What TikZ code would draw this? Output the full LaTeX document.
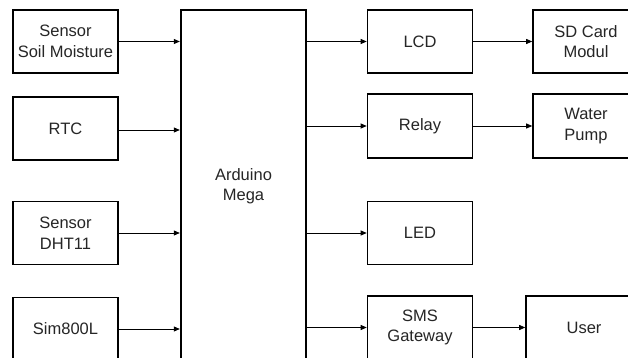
\documentclass[tikz,border=0pt]{standalone}
\usepackage{fontspec}
\setmainfont{Liberation Sans}
\usetikzlibrary{arrows.meta}
\begin{document}
\begin{tikzpicture}[x=1pt,y=1pt,
  box/.style={draw, line width=1.6pt, minimum width=105pt, minimum height=63pt,
    align=center, inner sep=0pt, text=black!85, font=\fontsize{16.5}{20.5}\selectfont},
  conn/.style={line width=0.8pt, -{Triangle[length=6pt,width=5pt]}}]
\useasboundingbox (0,0) rectangle (628,-358);
\clip (0,0) rectangle (628,-358);
\fill[white] (0,0) rectangle (628,-358);
% left column
\node[box] (sm)  at (65.5,-41.5) {Sensor\\Soil Moisture};
\node[box] (rtc) at (65.5,-128.5) {RTC};
\node[box] (dht) at (65.5,-233) {Sensor\\DHT11};
\node[box] (sim) at (65.5,-329) {Sim800L};
% controller
\node[box, line width=2.4pt, minimum width=125pt, minimum height=352pt] (ard) at (243.5,-186) {Arduino\\Mega};
% middle column
\node[box] (lcd)   at (420,-41.5) {LCD};
\node[box, minimum height=64pt] (relay) at (420,-126) {Relay};
\node[box] (led)   at (420,-233) {LED};
\node[box] (sms)   at (420,-327.5) {SMS\\Gateway};
% right column
\node[box, minimum width=106pt] (sd)   at (586,-41.5) {SD Card\\Modul};
\node[box, minimum width=106pt, minimum height=64pt] (pump) at (586,-126) {Water\\Pump};
\node[box, minimum width=116pt] (user) at (584,-327.5) {User};
% connectors
\draw[conn] (sm.east)  -- (sm.east -| ard.west);
\draw[conn] ([yshift=-1.5pt]rtc.east) -- ([yshift=-1.5pt]rtc.east -| ard.west);
\draw[conn] (dht.east) -- (dht.east -| ard.west);
\draw[conn] (sim.east) -- (sim.east -| ard.west);
\draw[conn] (lcd.west -| ard.east) -- (lcd.west);
\draw[conn] (relay.west -| ard.east) -- (relay.west);
\draw[conn] (led.west -| ard.east) -- (led.west);
\draw[conn] (sms.west -| ard.east) -- (sms.west);
\draw[conn] (lcd.east) -- (sd.west);
\draw[conn] (relay.east) -- (pump.west);
\draw[conn] (sms.east) -- (user.west);
\end{tikzpicture}
\end{document}
